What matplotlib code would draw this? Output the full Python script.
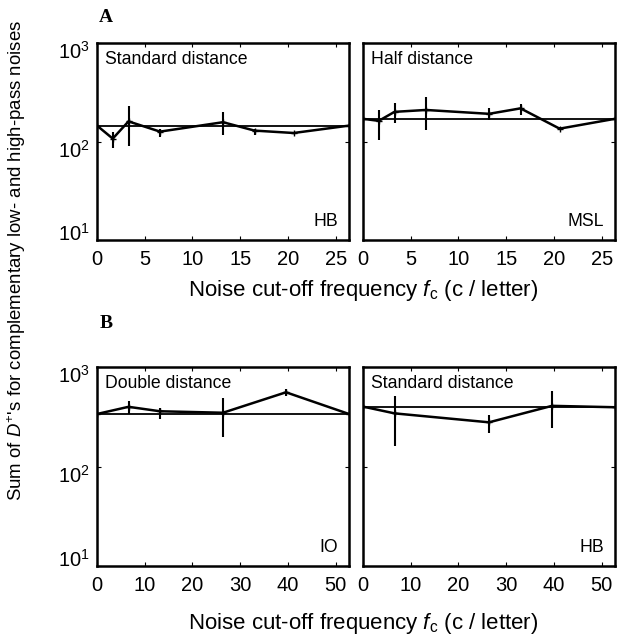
import numpy as np
import matplotlib
matplotlib.use("Agg")
import matplotlib.pyplot as plt
from matplotlib.ticker import LogLocator, NullLocator
from matplotlib.transforms import ScaledTranslation

plt.rcParams['font.family'] = ['Liberation Sans', 'DejaVu Sans']
plt.rcParams['mathtext.fontset'] = 'custom'
plt.rcParams['mathtext.rm'] = 'Liberation Sans'
plt.rcParams['mathtext.it'] = 'Liberation Sans:italic'

# panel A, left: standard distance, HB
a1_x = [0, 1.65, 3.3, 6.6, 13.2, 16.5, 20.6, 26.4]
a1_y = [145, 107, 160, 126, 157, 129, 122, 145]
a1_lo = [145, 85, 90, 112, 117, 117, 118, 145]
a1_hi = [145, 126, 227, 135, 197, 135, 126, 145]
a1_ref = 145

# panel A, right: half distance, MSL
a2_x = [0, 1.65, 3.3, 6.6, 13.2, 16.5, 20.6, 26.4]
a2_y = [170, 162, 200, 209, 191, 217, 135, 170]
a2_lo = [170, 104, 154, 132, 166, 186, 130, 170]
a2_hi = [170, 207, 245, 284, 219, 240, 140, 170]
a2_ref = 170

# panel B, left: double distance, IO
b1_x = [0, 6.6, 13.2, 26.4, 39.6, 52.8]
b1_y = [337, 398, 359, 347, 557, 337]
b1_lo = [337, 337, 302, 200, 515, 337]
b1_hi = [337, 452, 389, 490, 600, 337]
b1_ref = 337

# panel B, right: standard distance, HB
b2_x = [0, 6.6, 26.4, 39.6, 52.8]
b2_y = [400, 342, 278, 407, 394]
b2_lo = [400, 162, 219, 245, 394]
b2_hi = [400, 513, 331, 575, 394]
b2_ref = 400

panels = [
    (a1_x, a1_y, a1_lo, a1_hi, a1_ref, "Standard distance", "HB", 26.4, [0, 5, 10, 15, 20, 25]),
    (a2_x, a2_y, a2_lo, a2_hi, a2_ref, "Half distance", "MSL", 26.4, [0, 5, 10, 15, 20, 25]),
    (b1_x, b1_y, b1_lo, b1_hi, b1_ref, "Double distance", "IO", 52.8, [0, 10, 20, 30, 40, 50]),
    (b2_x, b2_y, b2_lo, b2_hi, b2_ref, "Standard distance", "HB", 52.8, [0, 10, 20, 30, 40, 50]),
]

W, H = 625, 636
fig = plt.figure(figsize=(W / 100, H / 100), dpi=100)

boxes = [
    (97, 43, 252, 197),
    (363, 43, 252, 197),
    (97, 367, 252, 199),
    (363, 367, 252, 199),
]

# MATLAB-ish placement of the log labels (10^1 pushed up, others down)
ylab_shift = {1: 8, 2: -7, 3: -7}

for i, (p, b) in enumerate(zip(panels, boxes)):
    x, y, lo, hi, ref, title, obs, xmax, xt = p
    l, t, w, h = b
    ax = fig.add_axes([l / W, 1 - (t + h) / H, w / W, h / H])
    x = np.array(x)
    y = np.array(y)
    yerr = [y - np.array(lo), np.array(hi) - y]
    ax.axhline(ref, color='black', lw=1.3)
    ax.errorbar(x, y, yerr=yerr, color='black', lw=1.8, elinewidth=1.5,
                capsize=0, marker='+', ms=4)
    ax.set_yscale('log')
    ax.set_ylim(10, 1000)
    ax.set_xlim(0, xmax)
    ax.set_xticks(xt)
    ax.set_yticks([10, 100, 1000])
    ax.yaxis.set_minor_locator(NullLocator())
    ax.tick_params(direction='in', top=True, right=True, length=3, width=0.8,
                   labelsize=14.5)
    ax.tick_params(axis='x', pad=7)
    ax.tick_params(axis='y', pad=5)
    if i % 2 == 1:
        ax.set_yticklabels([])
    else:
        fig.canvas.draw()
        for k, lab in enumerate(ax.get_yticklabels()):
            d = ylab_shift[k + 1]
            lab.set_transform(lab.get_transform() +
                              ScaledTranslation(0, d / 100, fig.dpi_scale_trans))
    for s in ax.spines.values():
        s.set_linewidth(1.8)
    ax.text(0.03, 0.96, title, transform=ax.transAxes, ha='left', va='top', fontsize=12.7)
    ax.text(0.955, 0.05, obs, transform=ax.transAxes, ha='right', va='bottom', fontsize=12.7)

fig.text(106 / W, 1 - 18 / H, "A", ha='center', va='center', fontsize=14,
         fontweight='bold', family='Liberation Serif')
fig.text(106 / W, 1 - 323 / H, "B", ha='center', va='center', fontsize=14,
         fontweight='bold', family='Liberation Serif')

xlab = r"Noise cut-off frequency $\mathit{f}_{\mathrm{c}}$ (c / letter)"
fig.text(363 / W, 1 - 291 / H, xlab, ha='center', va='center', fontsize=16)
fig.text(363 / W, 1 - 624 / H, xlab, ha='center', va='center', fontsize=16)
fig.text(17 / W, 1 - 260 / H,
         r"Sum of $\mathit{D}^{+}$'s for complementary low- and high-pass noises",
         ha='center', va='center', rotation=90, fontsize=13.4)

fig.savefig("out.png", dpi=100)
